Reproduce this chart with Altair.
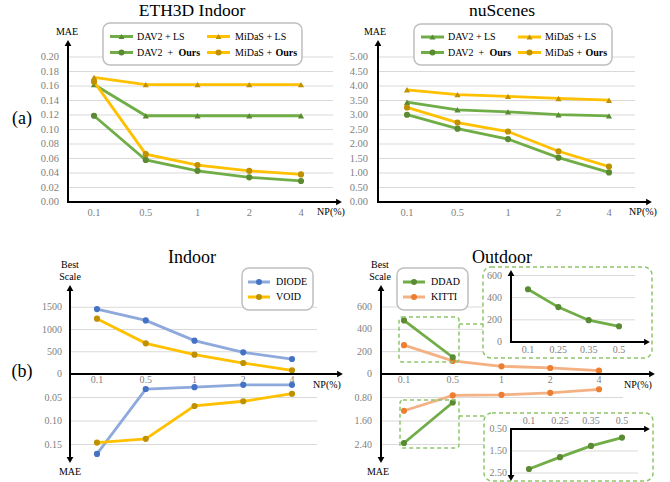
import altair as alt
import pandas as pd

# ---------------- data ----------------
NP = ["0.1", "0.5", "1", "2", "4"]
NP_ZOOM = ["0.1", "0.25", "0.35", "0.5"]

eth_dav2_ls = [0.162, 0.119, 0.119, 0.119, 0.119]
eth_dav2_ours = [0.119, 0.058, 0.043, 0.034, 0.029]
eth_midas_ls = [0.172, 0.162, 0.162, 0.162, 0.162]
eth_midas_ours = [0.166, 0.066, 0.051, 0.043, 0.038]

nus_dav2_ls = [3.44, 3.18, 3.11, 3.01, 2.97]
nus_dav2_ours = [3.01, 2.53, 2.17, 1.53, 1.02]
nus_midas_ls = [3.87, 3.70, 3.64, 3.57, 3.51]
nus_midas_ours = [3.26, 2.74, 2.43, 1.75, 1.22]

diode_scale = [1460, 1205, 750, 487, 337]
void_scale = [1245, 690, 435, 247, 82]
diode_mae = [0.170, 0.032, 0.028, 0.023, 0.023]
void_mae = [0.146, 0.138, 0.068, 0.058, 0.042]

ddad_scale = [480, 150]
kitti_scale = [258, 117, 69, 54, 30]
ddad_mae = [2.35, 0.97]
kitti_mae = [1.25, 0.73, 0.71, 0.64, 0.52]

ddad_zoom_scale = [476, 315, 197, 142]
ddad_zoom_mae = [2.32, 1.78, 1.27, 0.89]

eth_ticks = [0.00, 0.02, 0.04, 0.06, 0.08, 0.10, 0.12, 0.14, 0.16, 0.18, 0.20]
nus_ticks = [0.0, 0.5, 1.0, 1.5, 2.0, 2.5, 3.0, 3.5, 4.0, 4.5, 5.0]
in_scale_ticks = [0, 500, 1000, 1500]
in_mae_ticks = [0.05, 0.10, 0.15]
out_scale_ticks = [0, 200, 400, 600]
out_mae_ticks = [0.80, 1.60, 2.40]
zoom_scale_ticks = [0, 200, 400, 600]
zoom_mae_ticks = [0.50, 1.50, 2.50]

# ---------------- style ----------------
FONT = "Liberation Serif"
GRAY = "#7f7f7f"
GRID = "#d9d9d9"
GREEN_L, GREEN_D = "#70AD47", "#5A8A32"
YEL_L, YEL_D = "#FFC000", "#BF9000"
BLUE_L, BLUE_D = "#8EA9DB", "#4472C4"
ORG_L, ORG_D = "#F4B183", "#ED7D31"
DASH_G = "#8CC66A"

layers = []
DUMMY = alt.Data(values=[{"a": 1}])


def sc(domain, rng):
    return alt.Scale(domain=domain, range=rng, nice=False, zero=False)


def series(yvals, xs, ys, lc, pc, shape="circle", size=38, sw=2.8):
    df = pd.DataFrame({"x": list(range(len(yvals))), "y": yvals})
    base = alt.Chart(df).encode(
        x=alt.X("x:Q", scale=xs, axis=None), y=alt.Y("y:Q", scale=ys, axis=None)
    )
    layers.append(base.mark_line(color=lc, strokeWidth=sw))
    layers.append(base.mark_point(shape=shape, filled=True, color=pc, size=size, opacity=1))


def grid(vals, ys, x0, x1):
    df = pd.DataFrame({"v": vals})
    layers.append(
        alt.Chart(df).mark_rule(color=GRID, strokeWidth=1).encode(
            y=alt.Y("v:Q", scale=ys, axis=None), x=alt.value(x0), x2=alt.value(x1)
        )
    )


def ylabels(vals, fmt, ys, xr, size=10):
    df = pd.DataFrame({"v": vals, "t": [fmt.format(v) for v in vals]})
    layers.append(
        alt.Chart(df).mark_text(align="right", baseline="middle", font=FONT,
                                fontSize=size, color=GRAY).encode(
            y=alt.Y("v:Q", scale=ys, axis=None), x=alt.value(xr), text="t:N"
        )
    )


def xlabels(labels, xs, y, size=10):
    df = pd.DataFrame({"v": list(range(len(labels))), "t": labels})
    layers.append(
        alt.Chart(df).mark_text(align="center", baseline="middle", font=FONT,
                                fontSize=size, color=GRAY).encode(
            x=alt.X("v:Q", scale=xs, axis=None), y=alt.value(y), text="t:N"
        )
    )


def text(x, y, t, size=10, color="black", align="center", baseline="middle", weight="normal"):
    layers.append(
        alt.Chart(DUMMY).mark_text(align=align, baseline=baseline, font=FONT, fontSize=size,
                                   color=color, fontWeight=weight).encode(
            x=alt.value(x), y=alt.value(y), text=alt.value(t)
        )
    )


def rule(x, y, x2, y2, color="black", w=2, dash=None):
    kw = dict(color=color, strokeWidth=w)
    if dash:
        kw["strokeDash"] = dash
    layers.append(
        alt.Chart(DUMMY).mark_rule(**kw).encode(
            x=alt.value(x), y=alt.value(y), x2=alt.value(x2), y2=alt.value(y2)
        )
    )


def box(x, y, x2, y2, stroke, fill=None, dash=None, r=6, w=1.5):
    kw = dict(stroke=stroke, strokeWidth=w, cornerRadius=r)
    if fill:
        kw["fill"] = fill
    else:
        kw["fillOpacity"] = 0
    if dash:
        kw["strokeDash"] = dash
    layers.append(
        alt.Chart(DUMMY).mark_rect(**kw).encode(
            x=alt.value(x), y=alt.value(y), x2=alt.value(x2), y2=alt.value(y2)
        )
    )


def pt(x, y, shape, color, size=38):
    layers.append(
        alt.Chart(DUMMY).mark_point(shape=shape, filled=True, color=color, size=size, opacity=1).encode(
            x=alt.value(x), y=alt.value(y)
        )
    )


def leg_entry(x0, x1, y, lc, pc, shape, tx, label, bold=None, bold_dx=0):
    rule(x0, y, x1, y, color=lc, w=3)
    pt((x0 + x1) / 2, y, shape, pc, 36)
    text(tx, y, label, size=10, align="left")
    if bold:
        text(tx + bold_dx, y, bold, size=10, align="left", weight="bold")


# ---------------- (a) ETH3D Indoor ----------------
xs = sc([0, 4], [94, 301])
ys = sc([0, 0.2], [202, 57])
grid(eth_ticks[1:], ys, 68, 333)
ylabels(eth_ticks, "{:.2f}", ys, 59, 10.5)
xlabels(NP, xs, 213, 10.5)
series(eth_dav2_ls, xs, ys, GREEN_L, GREEN_D, "triangle-up")
series(eth_midas_ls, xs, ys, YEL_L, YEL_D, "triangle-up")
series(eth_dav2_ours, xs, ys, GREEN_L, GREEN_D)
series(eth_midas_ours, xs, ys, YEL_L, YEL_D)
rule(68, 202, 68, 45)
pt(68, 43, "triangle-up", "black", 45)
rule(67, 202, 337, 202)
pt(339, 202, "triangle-right", "black", 45)
text(67, 32, "MAE", 10)
text(331, 212, "NP(%)", 10)
text(192, 16, "ETH3D Indoor", 17.5, baseline="alphabetic")
text(22, 119, "(a)", 18)
box(103, 23, 302, 65, "#bfbfbf", fill="white", r=7)
leg_entry(110, 133, 36.5, GREEN_L, GREEN_D, "triangle-up", 137, "DAV2 + LS")
leg_entry(110, 133, 52.5, GREEN_L, GREEN_D, "circle", 137, "DAV2\u00a0 + ", "Ours", 41.5)
leg_entry(207, 230, 36.5, YEL_L, YEL_D, "triangle-up", 235, "MiDaS + LS")
leg_entry(207, 230, 52.5, YEL_L, YEL_D, "circle", 235, "MiDaS + ", "Ours", 40.5)

# ---------------- (a) nuScenes ----------------
xs = sc([0, 4], [407, 609])
ys = sc([0, 5], [202, 57])
grid(nus_ticks[1:], ys, 378, 635)
ylabels(nus_ticks, "{:.2f}", ys, 368, 10.5)
xlabels(NP, xs, 213, 10.5)
series(nus_dav2_ls, xs, ys, GREEN_L, GREEN_D, "triangle-up")
series(nus_midas_ls, xs, ys, YEL_L, YEL_D, "triangle-up")
series(nus_dav2_ours, xs, ys, GREEN_L, GREEN_D)
series(nus_midas_ours, xs, ys, YEL_L, YEL_D)
rule(378, 202, 378, 45)
pt(378, 43, "triangle-up", "black", 45)
rule(377, 202, 647, 202)
pt(649, 202, "triangle-right", "black", 45)
text(375, 32, "MAE", 10)
text(643, 212, "NP(%)", 10)
text(502, 16, "nuScenes", 17.5, baseline="alphabetic")
box(414, 24, 612, 65, "#bfbfbf", fill="white", r=7)
leg_entry(421, 444, 37, GREEN_L, GREEN_D, "triangle-up", 448, "DAV2 + LS")
leg_entry(421, 444, 52.5, GREEN_L, GREEN_D, "circle", 448, "DAV2\u00a0 + ", "Ours", 41.5)
leg_entry(518, 541, 37, YEL_L, YEL_D, "triangle-up", 545, "MiDaS + LS")
leg_entry(518, 541, 52.5, YEL_L, YEL_D, "circle", 545, "MiDaS + ", "Ours", 40.5)

# ---------------- (b) Indoor ----------------
xs = sc([0, 4], [97, 292])
ys_up = sc([0, 1500], [374, 307.3])
ys_lo = sc([0, 0.15], [374, 444.5])
grid(in_scale_ticks[1:], ys_up, 70, 317)
grid(in_mae_ticks, ys_lo, 70, 317)
ylabels(in_scale_ticks, "{:d}", ys_up, 62, 10)
ylabels(in_mae_ticks, "{:.2f}", ys_lo, 62, 10)
xlabels(NP, xs, 380, 10)
series(diode_scale, xs, ys_up, BLUE_L, BLUE_D)
series(void_scale, xs, ys_up, YEL_L, YEL_D)
series(diode_mae, xs, ys_lo, BLUE_L, BLUE_D)
series(void_mae, xs, ys_lo, YEL_L, YEL_D)
rule(70, 290, 70, 458)
pt(70, 288, "triangle-up", "black", 45)
pt(70, 460, "triangle-down", "black", 45)
rule(69, 374, 338, 374)
pt(340, 374, "triangle-right", "black", 45)
text(70, 265, "Best", 10)
text(70, 277, "Scale", 10)
text(70, 472, "MAE", 10)
text(327, 385, "NP(%)", 10)
text(192, 263, "Indoor", 18, baseline="alphabetic")
text(22, 372, "(b)", 18)
box(242, 268, 313, 310, "#bfbfbf", fill="white", r=7)
leg_entry(248, 270, 282, BLUE_L, BLUE_D, "circle", 276, "DIODE")
leg_entry(248, 270, 297, YEL_L, YEL_D, "circle", 276, "VOID")

# ---------------- (b) Outdoor ----------------
xs = sc([0, 4], [404, 599])
ys_up = sc([0, 600], [374, 307])
ys_lo = sc([0, 2.4], [374, 444.5])
grid(out_scale_ticks[1:], ys_up, 381, 623)
grid(out_mae_ticks, ys_lo, 381, 623)
ylabels(out_scale_ticks, "{:d}", ys_up, 372, 10)
ylabels(out_mae_ticks, "{:.2f}", ys_lo, 372, 10)
xlabels(NP, xs, 380, 10)
series(kitti_scale, xs, ys_up, ORG_L, ORG_D)
series(ddad_scale, xs, ys_up, GREEN_L, GREEN_D)
series(kitti_mae, xs, ys_lo, ORG_L, ORG_D)
series(ddad_mae, xs, ys_lo, GREEN_L, GREEN_D)
rule(381, 290, 381, 458)
pt(381, 288, "triangle-up", "black", 45)
pt(381, 460, "triangle-down", "black", 45)
rule(380, 374, 650, 374)
pt(652, 374, "triangle-right", "black", 45)
text(380, 265, "Best", 10)
text(380, 277, "Scale", 10)
text(378, 472, "MAE", 10)
text(638, 385, "NP(%)", 10)
text(502, 263, "Outdoor", 18, baseline="alphabetic")

# zoom markers and connectors
box(399, 317, 459, 362, DASH_G, dash=[4, 3], r=3)
box(400, 400, 459, 448, DASH_G, dash=[4, 3], r=3)
rule(459, 324, 483, 324, color=DASH_G, w=1.5, dash=[4, 3])
rule(459, 416, 484, 416, color=DASH_G, w=1.5, dash=[4, 3])

# upper inset
box(483, 267, 652, 358, DASH_G, fill="white", dash=[4, 3], r=8)
xs_z = sc([0, 3], [528, 619])
ys_z = sc([0, 600], [342, 275.5])
grid(zoom_scale_ticks[1:], ys_z, 511, 635)
ylabels(zoom_scale_ticks, "{:d}", ys_z, 502, 10)
xlabels(NP_ZOOM, xs_z, 350, 10)
series(ddad_zoom_scale, xs_z, ys_z, GREEN_L, GREEN_D)
rule(511, 342, 511, 275)
pt(511, 273, "triangle-up", "black", 45)
rule(510, 342, 645, 342)
pt(647, 342, "triangle-right", "black", 45)

# lower inset
box(484, 413, 653, 481, DASH_G, fill="white", dash=[4, 3], r=8)
xs_z2 = sc([0, 3], [529, 622])
ys_z2 = sc([0.5, 2.5], [429, 473])
grid(zoom_mae_ticks[1:], ys_z2, 511, 638)
ylabels(zoom_mae_ticks, "{:.2f}", ys_z2, 507, 10)
xlabels(NP_ZOOM, xs_z2, 421, 10)
series(ddad_zoom_mae, xs_z2, ys_z2, GREEN_L, GREEN_D)
rule(510, 429, 645, 429)
pt(647, 429, "triangle-right", "black", 45)
rule(511, 429, 511, 476)
pt(511, 478, "triangle-down", "black", 45)

# outdoor legend
box(397, 268, 468, 310, "#bfbfbf", fill="white", r=7)
leg_entry(403, 425, 282, GREEN_L, GREEN_D, "circle", 431, "DDAD")
leg_entry(403, 425, 297, ORG_L, ORG_D, "circle", 431, "KITTI")

chart = (
    alt.layer(*layers)
    .resolve_scale(x="independent", y="independent")
    .properties(width=670, height=482, autosize=alt.AutoSizeParams(type="none"), padding=0,
                background="white")
    .configure_view(stroke=None)
)

chart.save("out.html", embed_options={"renderer": "svg", "actions": False})
